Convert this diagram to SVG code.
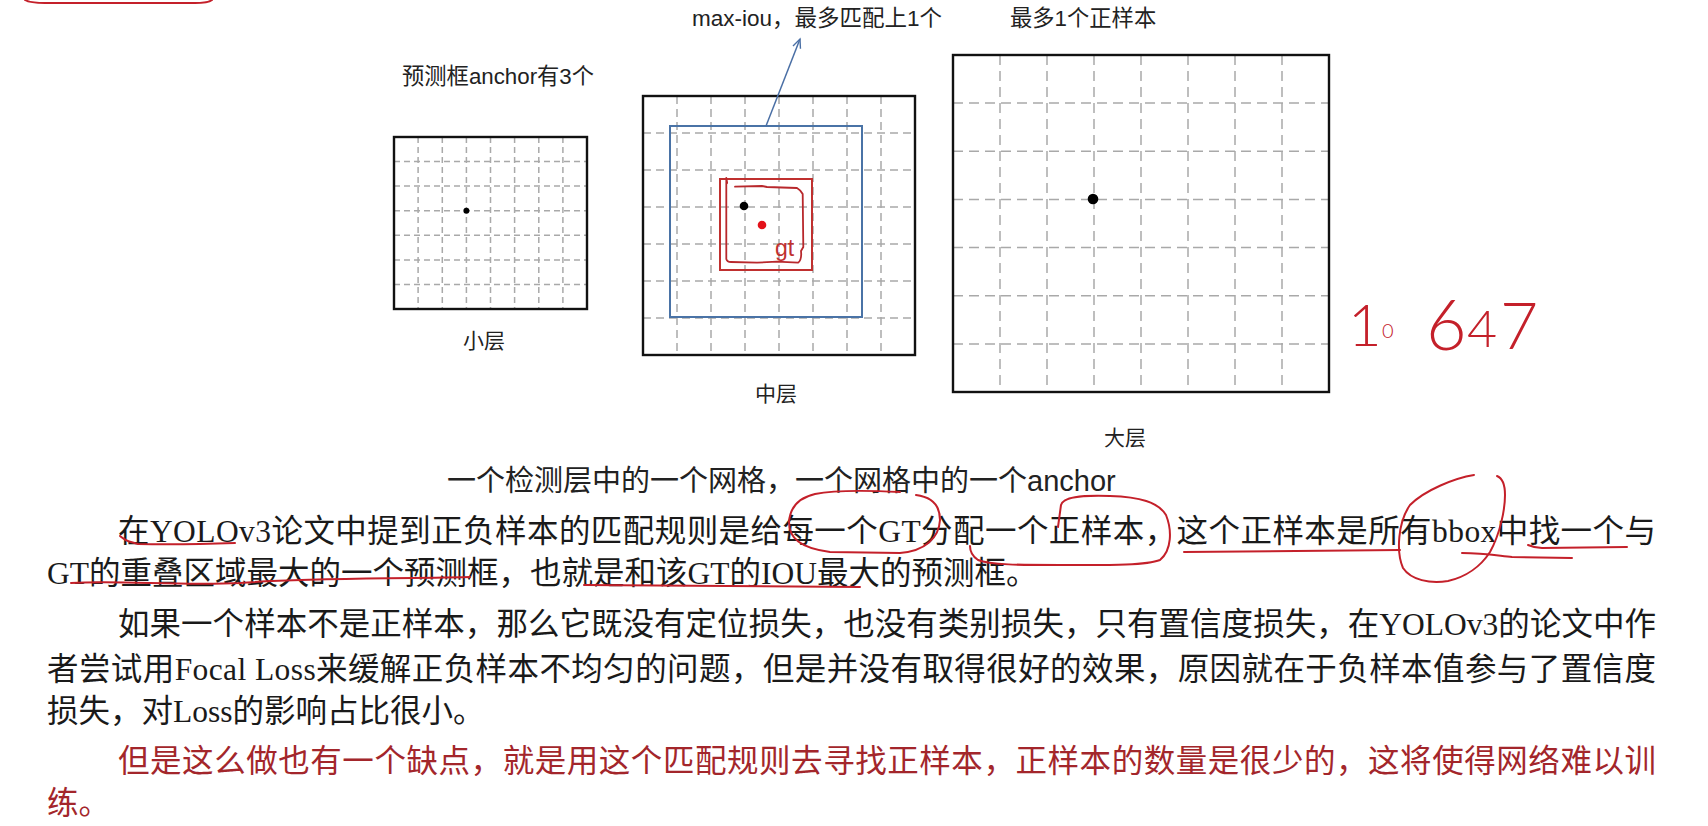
<svg xmlns="http://www.w3.org/2000/svg" width="1708" height="826" viewBox="0 0 1708 826">
<style>
  .frame{fill:none;stroke:#111;stroke-width:2.4}
  .grid{fill:none;stroke:#a9a9a9;stroke-width:1.5}
  .g-s{stroke-dasharray:6 4}
  .g-m{stroke-dasharray:8 5}
  .g-l{stroke-dasharray:10 6}
  .lbl{font-family:"Liberation Sans","Noto Sans CJK SC",sans-serif;fill:#222}
  .cap{font-family:"Liberation Serif","Noto Sans CJK SC",serif;fill:#222}
  .sans{font-family:"Liberation Sans","Noto Sans CJK SC",sans-serif}
  .body{font-family:"Liberation Serif","Noto Sans CJK SC",serif;font-size:31.5px;fill:#1a1a1a}
  .warn{fill:#a3262b}
  .ink{fill:none;stroke:#c4202a;stroke-width:2;stroke-linecap:round;stroke-linejoin:round}
  .hand{font-family:Lato,"Liberation Sans",sans-serif;font-weight:300;fill:#c4202a}
</style>
<defs>
  <marker id="open-arrow" markerWidth="12" markerHeight="12" refX="10" refY="5" orient="auto" markerUnits="userSpaceOnUse">
    <path d="M1,1 L10,5 L1,9" fill="none" stroke="#4a6fa5" stroke-width="1.4"/>
  </marker>
</defs>
<rect width="1708" height="826" fill="#fff"/>

<!-- pen mark at the top-left corner -->
<path class="ink" d="M25,0 Q30,3 45,3 L195,3 Q208,3 212,0"/>

<!-- small detection layer: 8x7 grid -->
<g id="small-layer">
  <path class="grid g-s" d="M418.1,137V309 M442.3,137V309 M466.4,137V309 M490.5,137V309 M514.6,137V309 M538.8,137V309 M562.9,137V309
    M394,161.6H587 M394,186.1H587 M394,210.7H587 M394,235.3H587 M394,259.9H587 M394,284.4H587"/>
  <rect class="frame" x="394" y="137" width="193" height="172"/>
  <circle cx="466.4" cy="210.7" r="3" fill="#000"/>
  <text class="cap" x="484" y="348" font-size="21" text-anchor="middle">小层</text>
</g>

<!-- middle detection layer with anchor box and gt -->
<g id="mid-layer">
  <path class="grid g-m" d="M677,96V355 M711,96V355 M745,96V355 M779,96V355 M813,96V355 M847,96V355 M881,96V355
    M643,133H915 M643,170H915 M643,207H915 M643,244H915 M643,281H915 M643,318H915"/>
  <rect class="frame" x="643" y="96" width="272" height="259"/>
  <rect x="670" y="126" width="192" height="191" fill="none" stroke="#4a73a6" stroke-width="2"/>
  <rect x="720" y="179" width="92" height="91" fill="none" stroke="#c0302f" stroke-width="2"/>
  <path fill="none" stroke="#b8282c" stroke-width="1.8" stroke-linecap="round" stroke-linejoin="round"
    d="M726.3,178 L727.2,183 M726.3,180 L726.3,259 Q727,262 731,262 L757,262.7 L777,261.7 L798,262.7 Q802,260 801,251 L803.3,247 L802.7,194 Q800.5,190 797,188 L767,187 L762,186 L735,186.7"/>
  <circle cx="744" cy="206" r="4.3" fill="#000"/>
  <circle cx="762" cy="225" r="4.3" fill="#e3121a"/>
  <text class="sans" x="775" y="256" font-size="23" fill="#c0302f">gt</text>
  <text class="cap" x="776" y="401" font-size="21" text-anchor="middle">中层</text>
</g>

<!-- large detection layer -->
<g id="large-layer">
  <path class="grid g-l" d="M1000,55V392 M1047,55V392 M1094,55V392 M1141,55V392 M1188,55V392 M1235,55V392 M1282,55V392
    M953,103.1H1329 M953,151.3H1329 M953,199.4H1329 M953,247.6H1329 M953,295.7H1329 M953,343.9H1329"/>
  <rect class="frame" x="953" y="55" width="376" height="337"/>
  <circle cx="1093" cy="199" r="5.3" fill="#000"/>
  <text class="cap" x="1125" y="445" font-size="21" text-anchor="middle">大层</text>
</g>

<!-- connector: anchor box to the max-iou note -->
<g id="connectors">
  <line x1="766" y1="126" x2="800" y2="39" stroke="#4a6fa5" stroke-width="1.5" marker-end="url(#open-arrow)"/>
</g>

<!-- notes above the layers -->
<g id="notes">
  <text class="lbl" x="692" y="26" font-size="22.5">max-iou，最多匹配上1个</text>
  <text class="lbl" x="1010" y="26" font-size="22.3">最多1个正样本</text>
  <text class="lbl" x="402" y="84" font-size="22.3">预测框anchor有3个</text>
</g>

<!-- handwritten number -->
<text class="hand"><tspan x="1348" y="346" font-size="58">1</tspan><tspan x="1382" y="338" font-size="20">0</tspan><tspan x="1426" y="350" font-size="70">6</tspan><tspan x="1467" y="347" font-size="52">4</tspan><tspan x="1500" y="349" font-size="66">7</tspan></text>

<!-- caption and body text -->
<g id="caption">
  <text class="cap" x="447" y="491" font-size="29">一个检测层中的一个网格，一个网格中的一个<tspan class="sans">anchor</tspan></text>
</g>
<g id="body">
  <text class="body" x="118" y="542" textLength="1538" lengthAdjust="spacing">在YOLOv3论文中提到正负样本的匹配规则是给每一个GT分配一个正样本，这个正样本是所有bbox中找一个与</text>
  <text class="body" x="47" y="584">GT的重叠区域最大的一个预测框，也就是和该GT的IOU最大的预测框。</text>
  <text class="body" x="118" y="635" textLength="1538" lengthAdjust="spacing">如果一个样本不是正样本，那么它既没有定位损失，也没有类别损失，只有置信度损失，在YOLOv3的论文中作</text>
  <text class="body" x="47" y="680" textLength="1609" lengthAdjust="spacing">者尝试用Focal Loss来缓解正负样本不均匀的问题，但是并没有取得很好的效果，原因就在于负样本值参与了置信度</text>
  <text class="body" x="47" y="722">损失，对Loss的影响占比很小。</text>
  <text class="body warn" x="118" y="772" textLength="1538" lengthAdjust="spacing">但是这么做也有一个缺点，就是用这个匹配规则去寻找正样本，正样本的数量是很少的，这将使得网络难以训</text>
  <text class="body warn" x="47" y="814">练。</text>
</g>

<!-- pen marks over the body text -->
<g id="pen-marks">
  <path class="ink" d="M120,536 Q126,541 131,542 L138,544 Q180,545 235,543"/>
  <path class="ink" d="M900,492 C860,490 830,491 815,494 C798,498 790,508 789,522 C789,538 800,548 830,552 L900,553 C925,551 939,538 940,520 C940,505 932,497 916,495"/>
  <path class="ink" d="M1058,527 L1061,505 C1063,497 1080,495 1110,496 C1140,497 1158,502 1166,515 C1172,530 1172,550 1160,560 C1145,566 1100,565 1060,565 C1020,565 990,565 978,560 C972,556 970,550 970,546"/>
  <path class="ink" d="M1184,552 L1400,550"/>
  <path class="ink" d="M1474,475 C1455,478 1425,490 1410,505 C1398,522 1396,552 1403,568 C1411,580 1430,584 1448,581 C1466,577 1481,566 1490,552 C1500,534 1505,510 1505,495 C1505,485 1502,478 1497,476"/>
  <path class="ink" d="M1462,553 C1485,553 1500,556 1512,557 L1572,558"/>
  <path class="ink" d="M1528,545 Q1535,548 1542,548 L1627,547"/>
  <path class="ink" d="M71,583 C120,580 180,586 240,583 C300,578 380,579 470,577"/>
  <path class="ink" d="M584,585 L860,587"/>
</g>
</svg>
